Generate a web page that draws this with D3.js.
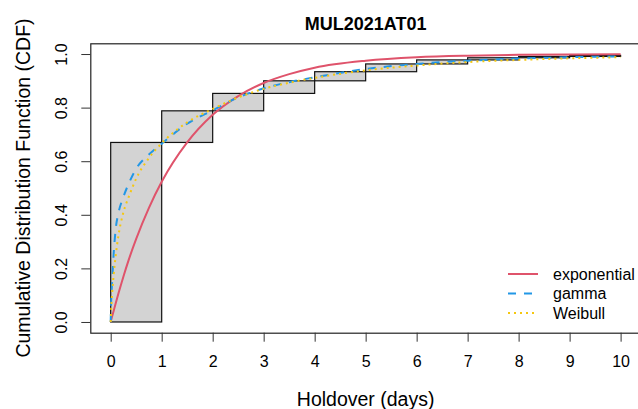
<!DOCTYPE html>
<html>
<head>
<meta charset="utf-8">
<script src="https://cdn.jsdelivr.net/npm/d3@7"></script>
<style>
  body { margin: 0; background: #fff; }
  text { font-family: "Liberation Sans", Arial, sans-serif; fill: #000; }
</style>
</head>
<body>
<script>
// empirical CDF level reached at the end of each day (0..10)
let days = [0, 1, 2, 3, 4, 5, 6, 7, 8, 9, 10];
let ecdf = [0, 0.670, 0.788, 0.853, 0.900, 0.934, 0.963, 0.978, 0.986, 0.991, 0.995];

// fitted CDF curves
let curveX   = [0, 0.01, 0.03, 0.06, 0.1, 0.15, 0.25, 0.35, 0.5, 0.75, 1, 1.5, 2, 2.5, 3, 3.5, 4, 5, 6, 7, 8, 9, 10];
let expY     = [0, 0.008, 0.022, 0.043, 0.071, 0.105, 0.17, 0.23, 0.31, 0.426, 0.523, 0.67, 0.773, 0.843, 0.892, 0.925, 0.949, 0.975, 0.988, 0.994, 0.997, 0.9985, 0.999];
let gammaY   = [0, 0.08, 0.157, 0.26, 0.35, 0.405, 0.467, 0.515, 0.572, 0.625, 0.665, 0.74, 0.79, 0.838, 0.872, 0.895, 0.913, 0.944, 0.963, 0.975, 0.983, 0.988, 0.991];
let weibullY = [0, 0.05, 0.11, 0.18, 0.25, 0.32, 0.41, 0.465, 0.535, 0.612, 0.667, 0.745, 0.795, 0.838, 0.87, 0.893, 0.911, 0.939, 0.957, 0.97, 0.978, 0.984, 0.988];

let xTicks = [0, 1, 2, 3, 4, 5, 6, 7, 8, 9, 10];
let yTicks = [0, 0.2, 0.4, 0.6, 0.8, 1.0];
let seriesNames = ['exponential', 'gamma', 'Weibull'];
let seriesColors = ['#DF536B', '#2297E6', '#F5C710'];
let seriesDash = [null, '8,8', '2,4'];

let W = 638, H = 409;
let margin = { top: 43.3, left: 90.3, bottom: 76.3, right: -3 };

let svg = d3.select('body').append('svg').attr('width', W).attr('height', H);

let x = d3.scaleLinear().domain([-0.4, 10.4]).range([margin.left, W - margin.right]);
let y = d3.scaleLinear().domain([-0.04, 1.04]).range([H - margin.bottom, margin.top]);

// empirical step boxes
let boxes = days.slice(1).map(function(d, i) {
  return { x0: days[i], x1: d, y0: ecdf[i], y1: ecdf[i + 1] };
});
svg.append('g').selectAll('rect').data(boxes).enter().append('rect')
  .attr('x', d => x(d.x0))
  .attr('y', d => y(d.y1))
  .attr('width', d => x(d.x1) - x(d.x0))
  .attr('height', d => y(d.y0) - y(d.y1))
  .attr('fill', '#d3d3d3')
  .attr('stroke', '#111')
  .attr('stroke-width', 1.2);

// fitted curves
let series = [expY, gammaY, weibullY];
let line = d3.line().x(d => x(d[0])).y(d => y(d[1])).curve(d3.curveMonotoneX);
series.forEach(function(s, k) {
  svg.append('path')
    .datum(curveX.map((v, i) => [v, s[i]]))
    .attr('d', line)
    .attr('fill', 'none')
    .attr('stroke', seriesColors[k])
    .attr('stroke-width', 2)
    .attr('stroke-dasharray', seriesDash[k]);
});

// plot frame
svg.append('rect')
  .attr('x', margin.left + 0.5).attr('y', margin.top + 0.5)
  .attr('width', x.range()[1] - margin.left).attr('height', y.range()[0] - margin.top)
  .attr('fill', 'none').attr('stroke', '#222').attr('stroke-width', 1.2);

// axes
let xAxis = svg.append('g').attr('transform', 'translate(0,' + y.range()[0] + ')')
  .call(d3.axisBottom(x).tickValues(xTicks).tickSize(9).tickPadding(14).tickFormat(d3.format('d')));
let yAxis = svg.append('g').attr('transform', 'translate(' + margin.left + ',0)')
  .call(d3.axisLeft(y).tickValues(yTicks).tickSize(9).tickFormat(d3.format('.1f')));
[xAxis, yAxis].forEach(function(a) {
  a.select('.domain').remove();
  a.selectAll('line').attr('stroke', '#333');
  a.selectAll('text').style('font-size', '16px').style('font-family', '"Liberation Sans", Arial, sans-serif');
});
yAxis.selectAll('text')
  .attr('x', null).attr('dy', null)
  .attr('text-anchor', 'middle')
  .attr('transform', 'translate(-23,0) rotate(-90)');

// titles
svg.append('text').attr('x', (x.range()[0] + x.range()[1]) / 2).attr('y', 30)
  .attr('text-anchor', 'middle').style('font-size', '18px').style('font-weight', 'bold')
  .text('MUL2021AT01');
svg.append('text').attr('x', (x.range()[0] + x.range()[1]) / 2).attr('y', 405.5)
  .attr('text-anchor', 'middle').style('font-size', '19.5px')
  .text('Holdover (days)');
svg.append('text')
  .attr('transform', 'translate(30,' + (y.range()[0] + y.range()[1]) / 2 + ') rotate(-90)')
  .attr('text-anchor', 'middle').style('font-size', '19.5px')
  .text('Cumulative Distribution Function (CDF)');

// legend
let legend = svg.append('g').selectAll('g').data(seriesNames).enter().append('g')
  .attr('transform', (d, i) => 'translate(508,' + [274, 293.5, 313][i] + ')');
legend.append('line').attr('x1', 0).attr('x2', 30)
  .attr('stroke', (d, i) => seriesColors[i]).attr('stroke-width', 2)
  .attr('stroke-dasharray', (d, i) => seriesDash[i]);
legend.append('text').attr('x', 45).attr('y', 5.5).style('font-size', '16px').text(d => d);
</script>
</body>
</html>
